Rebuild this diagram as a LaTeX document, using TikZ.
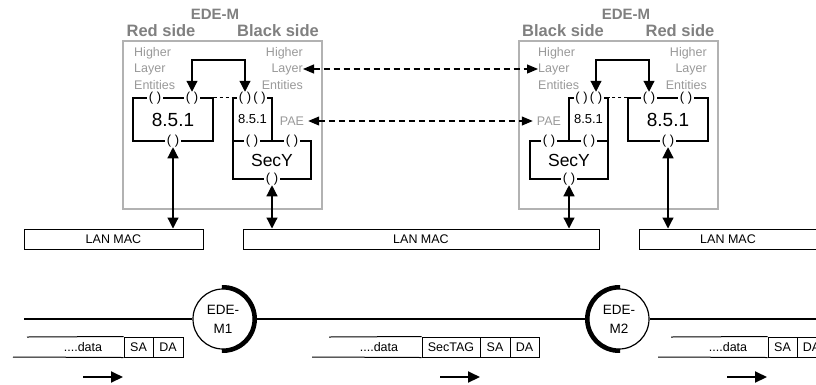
\documentclass[tikz,border=0pt]{standalone}
\usepackage{fontspec}
\setmainfont{Liberation Sans}
\usetikzlibrary{arrows.meta}
\tikzset{
  edebox/.style={draw=black!30, line width=2pt},
  edetitle/.style={text=black!50, font=\bfseries\fontsize{15}{17}\selectfont},
  sidetitle/.style={text=black!50, font=\bfseries\fontsize{16.5}{18}\selectfont},
  hle/.style={text=black!40, inner sep=0pt, font=\fontsize{12.5}{14}\selectfont},
  blk/.style={draw, line width=1.2pt, inner sep=0pt},
  brk/.style={fill=white, inner xsep=1.4pt, inner ysep=0pt, font=\fontsize{13}{14}\selectfont},
  macbox/.style={draw, line width=1pt, minimum height=20pt, inner sep=0pt, font=\fontsize{12.5}{14}\selectfont},
  cell/.style={draw, line width=1pt, minimum height=20pt, inner sep=0pt, font=\fontsize{12.5}{14}\selectfont},
  txt/.style={inner sep=0pt, font=\fontsize{12.5}{14}\selectfont},
  dbl/.style={line width=1.2pt, arrows={Triangle[length=11pt,width=11pt]-Triangle[length=11pt,width=11pt]}},
  dsh/.style={line width=1.2pt, dash pattern=on 6pt off 4pt, arrows={Triangle[length=11pt,width=9pt]-Triangle[length=11pt,width=9pt]}},
  fwd/.style={line width=2pt, arrows={-Triangle[length=12pt,width=11pt]}},
  ede/.style={draw, circle, fill=white, line width=1.2pt, minimum size=60pt, inner sep=0pt, align=center, font=\fontsize{13.5}{19}\selectfont}
}
\begin{document}
\begin{tikzpicture}[x=1pt, y=-1pt]
\useasboundingbox (0,0) rectangle (816,384);
\coordinate (top) at (0,60);

% left EDE-M
\draw[edebox] (123,41) rectangle (322,209);
\node[edetitle] (t1) at (215,14) {EDE-M};
\node[sidetitle] (red1) at (161,31) {Red side};
\node[sidetitle] (blk1) at (278,31) {Black side};
\node[hle, anchor=west] (h1a) at (134,53) {Higher};
\node[hle, anchor=west] (h1b) at (134,69) {Layer};
\node[hle, anchor=west] (h1c) at (134,85) {Entities};
\node[hle, anchor=east] (h2a) at (303,53) {Higher};
\node[hle, anchor=east] (h2b) at (303,69) {Layer};
\node[hle, anchor=east] (h2c) at (303,85) {Entities};
\node[blk, minimum width=80pt, minimum height=43pt, font=\fontsize{19}{21}\selectfont] (r851a) at (173,119.5) {8.5.1};
\node[blk, minimum width=39pt, minimum height=43pt, font=\fontsize{13}{15}\selectfont] (b851a) at (252.5,119.5) {8.5.1};
\node[blk, minimum width=78pt, minimum height=38pt, font=\fontsize{17.5}{20}\selectfont] (secya) at (272,160) {SecY};
\node[hle, inner xsep=4pt] (pae1) at (292,121) {PAE};
\draw[dashed, line width=1pt] (r851a.north east) -- (b851a.north west);
\node[brk] (p1a) at (155,98) {( )};
\node[brk] (p2a) at (192,98) {( )};
\node[brk] (p3a) at (173,141) {( )};
\node[brk] (q1a) at (245,98) {( )};
\node[brk] (q2a) at (259.5,98) {( )};
\node[brk] (s1a) at (252,141) {( )};
\node[brk] (s2a) at (292,141) {( )};
\node[brk] (s3a) at (272,179) {( )};
\draw[dbl] (p2a.north) -- (p2a.north |- top) -| (q1a.north);

% right EDE-M
\draw[edebox] (519,41) rectangle (718,209);
\node[edetitle] (t2) at (626,14) {EDE-M};
\node[sidetitle] (blk2) at (563,31) {Black side};
\node[sidetitle] (red2) at (680,31) {Red side};
\node[hle, anchor=west] (h3a) at (538,53) {Higher};
\node[hle, anchor=west] (h3b) at (538,69) {Layer};
\node[hle, anchor=west] (h3c) at (538,85) {Entities};
\node[hle, anchor=east] (h4a) at (707,53) {Higher};
\node[hle, anchor=east] (h4b) at (707,69) {Layer};
\node[hle, anchor=east] (h4c) at (707,85) {Entities};
\node[blk, minimum width=80pt, minimum height=43pt, font=\fontsize{19}{21}\selectfont] (r851b) at (668,119.5) {8.5.1};
\node[blk, minimum width=39pt, minimum height=43pt, font=\fontsize{13}{15}\selectfont] (b851b) at (588.5,119.5) {8.5.1};
\node[blk, minimum width=78pt, minimum height=38pt, font=\fontsize{17.5}{20}\selectfont] (secyb) at (569,160) {SecY};
\node[hle, inner xsep=4pt] (pae2) at (549,121) {PAE};
\draw[dashed, line width=1pt] (r851b.north west) -- (b851b.north east);
\node[brk] (p1b) at (686,98) {( )};
\node[brk] (p2b) at (649,98) {( )};
\node[brk] (p3b) at (668,141) {( )};
\node[brk] (q1b) at (596,98) {( )};
\node[brk] (q2b) at (581.5,98) {( )};
\node[brk] (s1b) at (589,141) {( )};
\node[brk] (s2b) at (549,141) {( )};
\node[brk] (s3b) at (569,179) {( )};
\draw[dbl] (p2b.north) -- (p2b.north |- top) -| (q1b.north);

% between the two
\draw[dsh] (h2b.east) -- (h3b.west);
\draw[dsh] (pae1.east) -- (pae2.west);

% LAN MACs
\node[macbox, minimum width=179pt] (mac1) at (113.5,239) {LAN MAC};
\node[macbox, minimum width=356pt] (mac2) at (421,239) {LAN MAC};
\node[macbox, minimum width=178pt] (mac3) at (728,239) {LAN MAC};
\draw[dbl] (p3a.south) -- (p3a.south |- mac1.north);
\draw[dbl] (s3a.south) -- (s3a.south |- mac2.north);
\draw[dbl] (s3b.south) -- (s3b.south |- mac2.north);
\draw[dbl] (p3b.south) -- (p3b.south |- mac3.north);

% LAN
\node[ede] (m1) at (223,319) {EDE-\\M1};
\node[ede] (m2) at (619,319) {EDE-\\M2};
\draw[line width=4pt] (m1.center) ++(-92:32) arc[start angle=-92, end angle=92, radius=32];
\draw[line width=4pt] (m2.center) ++(88:32) arc[start angle=88, end angle=272, radius=32];
\draw[line width=1.2pt] (24,319) -- (m1.west);
\draw[line width=1.2pt] (m1.east) -- (m2.west);
\draw[line width=1.2pt] (m2.east) -- (816,319);

% frames
\node[cell, minimum width=29pt] (sa1) at (138.5,347) {SA};
\node[cell, minimum width=30pt] (da1) at (168,347) {DA};
\node[txt] (dt1) at (83,347) {....data};
\draw[line width=1pt] (27,337) -- (sa1.north west);
\draw[line width=1pt] (13,357) -- (sa1.south west);
\draw[fwd] (83,377) -- (123,377);

\node[cell, minimum width=58pt] (tag2) at (451,347) {SecTAG};
\node[cell, minimum width=30pt] (sa2) at (495,347) {SA};
\node[cell, minimum width=29pt] (da2) at (524.5,347) {DA};
\node[txt] (dt2) at (379,347) {....data};
\draw[line width=1pt] (329,337) -- (tag2.north west);
\draw[line width=1pt] (312,357) -- (tag2.south west);
\draw[fwd] (440,377) -- (480,377);

\node[cell, minimum width=29pt] (sa3) at (782.5,347) {SA};
\node[cell, minimum width=29pt] (da3) at (811.5,347) {DA};
\node[txt] (dt3) at (728,347) {....data};
\draw[line width=1pt] (671,337) -- (sa3.north west);
\draw[line width=1pt] (658,357) -- (sa3.south west);
\draw[fwd] (727,377) -- (767,377);
\end{tikzpicture}
\end{document}
